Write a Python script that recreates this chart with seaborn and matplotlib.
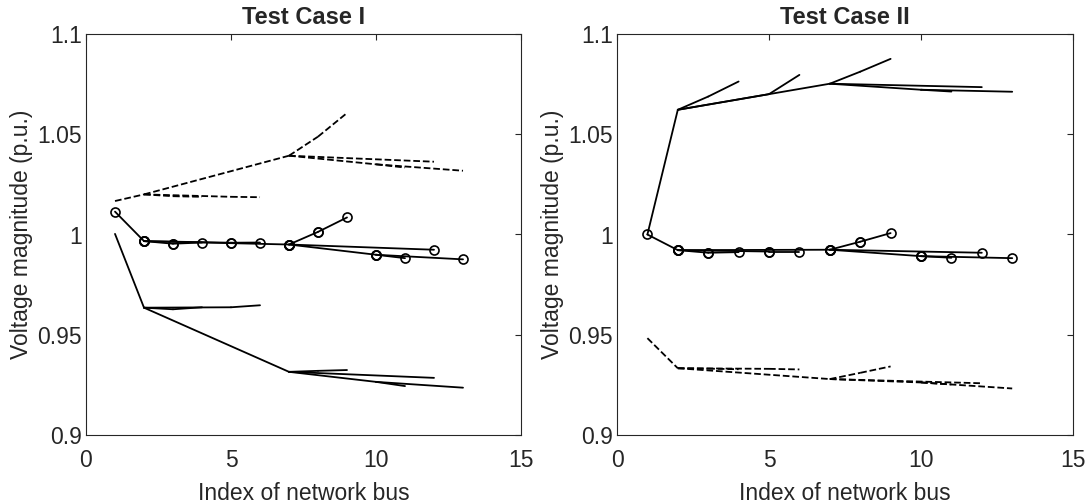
import numpy as np
import pandas as pd
import matplotlib
matplotlib.use("Agg")
import matplotlib.pyplot as plt
import seaborn as sns

# ---- network topology (radial feeder, 13 buses) ----
buses = list(range(1, 14))
parents = [1, 2, 3, 2, 5, 2, 7, 8, 7, 10, 10, 7]
children = [2, 3, 4, 5, 6, 7, 8, 9, 10, 11, 13, 12]

# ---- bus voltages (p.u.) ----
case1_dashed = [1.0167, 1.0200, 1.0191, 1.0188, 1.0188, 1.0186, 1.0393,
                1.0488, 1.0606, 1.0350, 1.0334, 1.0363, 1.0318]
case1_circle = [1.0114, 0.9967, 0.9954, 0.9960, 0.9959, 0.9960, 0.9950,
                1.0013, 1.0085, 0.9899, 0.9882, 0.9924, 0.9876]
case1_solid = [1.0003, 0.9635, 0.9627, 0.9637, 0.9637, 0.9647, 0.9315,
               0.9320, 0.9324, 0.9265, 0.9244, 0.9285, 0.9236]

case2_solid = [1.0000, 1.0622, 1.0688, 1.0763, 1.0700, 1.0796, 1.0752,
               1.0812, 1.0876, 1.0722, 1.0713, 1.0735, 1.0712]
case2_circle = [1.0000, 0.9922, 0.9909, 0.9912, 0.9915, 0.9915, 0.9924,
                0.9964, 1.0007, 0.9892, 0.9884, 0.9909, 0.9882]
case2_dashed = [0.9483, 0.9333, 0.9331, 0.9328, 0.9330, 0.9327, 0.9279,
                0.9310, 0.9342, 0.9262, 0.9252, 0.9258, 0.9232]

titles = ["Test Case I", "Test Case II"]
x_label = "Index of network bus"
y_label = "Voltage magnitude (p.u.)"
x_ticks = [0, 5, 10, 15]
y_ticks = [0.9, 0.95, 1.0, 1.05, 1.1]
y_tick_labels = ["0.9", "0.95", "1", "1.05", "1.1"]


def segments(values):
    rows = []
    for k, (p, c) in enumerate(zip(parents, children)):
        rows.append((k, p, values[p - 1]))
        rows.append((k, c, values[c - 1]))
    return pd.DataFrame(rows, columns=["seg", "bus", "v"])


sns.set_style("white")
plt.rcParams["font.family"] = ["Liberation Sans", "DejaVu Sans"]

fig = plt.figure(figsize=(10.9, 5.04), dpi=100)
ax1 = fig.add_axes([86 / 1090, 69 / 504, 435 / 1090, 401 / 504])
ax2 = fig.add_axes([617 / 1090, 69 / 504, 456 / 1090, 401 / 504])

grey = "#262626"
LW = 1.3

cases = [
    (ax1, case1_dashed, case1_circle, case1_solid, titles[0]),
    (ax2, case2_dashed, case2_circle, case2_solid, titles[1]),
]

for ax, dashed, circ, solid, title in cases:
    sns.lineplot(data=segments(solid), x="bus", y="v", units="seg",
                 estimator=None, sort=False, color="k", lw=LW, ax=ax,
                 legend=False)
    sns.lineplot(data=segments(dashed), x="bus", y="v", units="seg",
                 estimator=None, sort=False, color="k", lw=LW,
                 linestyle="--", ax=ax, legend=False)
    sns.lineplot(data=segments(circ), x="bus", y="v", units="seg",
                 estimator=None, sort=False, color="k", lw=LW, marker="o",
                 markersize=6.5, mfc="none", mec="k", mew=1.2, ax=ax,
                 legend=False)
    ax.set_xlim(0, 15)
    ax.set_ylim(0.9, 1.1)
    ax.set_xticks(x_ticks)
    ax.set_xticklabels([str(t) for t in x_ticks])
    ax.set_yticks(y_ticks)
    ax.set_yticklabels(y_tick_labels)
    ax.tick_params(axis="both", direction="in", top=True, right=True,
                   length=4, width=0.8, color=grey, labelcolor=grey,
                   labelsize=16.5)
    ax.tick_params(axis="x", pad=10)
    ax.tick_params(axis="y", pad=3)
    for sp in ax.spines.values():
        sp.set_visible(True)
        sp.set_color(grey)
        sp.set_linewidth(0.8)
    ax.set_xlabel(x_label, fontsize=16.5, color=grey, labelpad=7)
    ax.set_ylabel(y_label, fontsize=16.5, color=grey, labelpad=3)
    ax.set_title(title, fontsize=17, fontweight="bold", pad=7)

fig.savefig("out.png", dpi=100, facecolor="white")
